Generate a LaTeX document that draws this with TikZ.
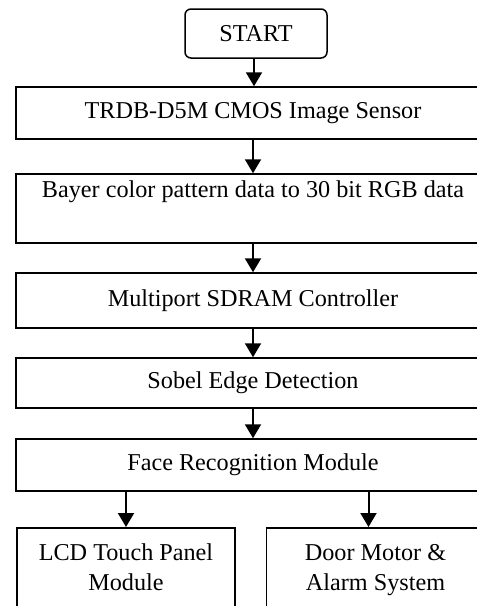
\documentclass[tikz,border=0pt]{standalone}
\usepackage{fontspec}
\setmainfont{Liberation Serif}
\usetikzlibrary{arrows.meta}
\tikzset{
    blockbox/.style={rectangle, draw, line width=0.75pt, align=center, inner sep=2pt,
        minimum width=237pt, minimum height=26pt, font=\fontsize{12.1}{15}\selectfont}
}
\tikzset{startbox/.style={blockbox, rounded corners=3pt, minimum width=71pt, minimum height=24.5pt}}
\tikzset{outbox/.style={blockbox, anchor=north, minimum width=109pt, minimum height=42pt}}
\tikzset{flow/.style={line width=1pt, -{Triangle[width=8pt,length=7pt]}}}

\begin{document}
\begin{tikzpicture}[x=0.5pt, y=-0.5pt]
        \clip (0,0) rectangle (477,606);
        \node (s0) [startbox] at (256, 33.5) {START};
        \node (b1) [blockbox] at (253, 113) {TRDB-D5M CMOS Image Sensor};
        \node (b2) [blockbox, minimum height=34.5pt] at (253, 208.5) {Bayer color pattern data to 30 bit RGB data\\ \strut};
        \node (b3) [blockbox, minimum height=27.5pt] at (253, 300.5) {Multiport SDRAM Controller};
        \node (b4) [blockbox, minimum height=25pt] at (253, 383) {Sobel Edge Detection};
        \node (b5) [blockbox] at (253, 465) {Face Recognition Module};
        \node (b6) [outbox] at (126, 527) {\strut LCD Touch Panel\\Module\strut};
        \node (b7) [outbox] at (375.5, 527) {\strut Door Motor \&\\Alarm System\strut};
        \draw [flow] (s0.south -| 254,0) -- (b1.north -| 254,0);
        \draw [flow] (b1) -- (b2);
        \draw [flow] (b2) -- (b3);
        \draw [flow] (b3) -- (b4);
        \draw [flow] (b4) -- (b5);
        \draw [flow] (b5.south -| b6.north) -- (b6.north);
        \draw [flow] ([xshift=-3.5pt]b5.south -| b7.north) -- ([xshift=-3.5pt]b7.north);
\end{tikzpicture}
\end{document}
